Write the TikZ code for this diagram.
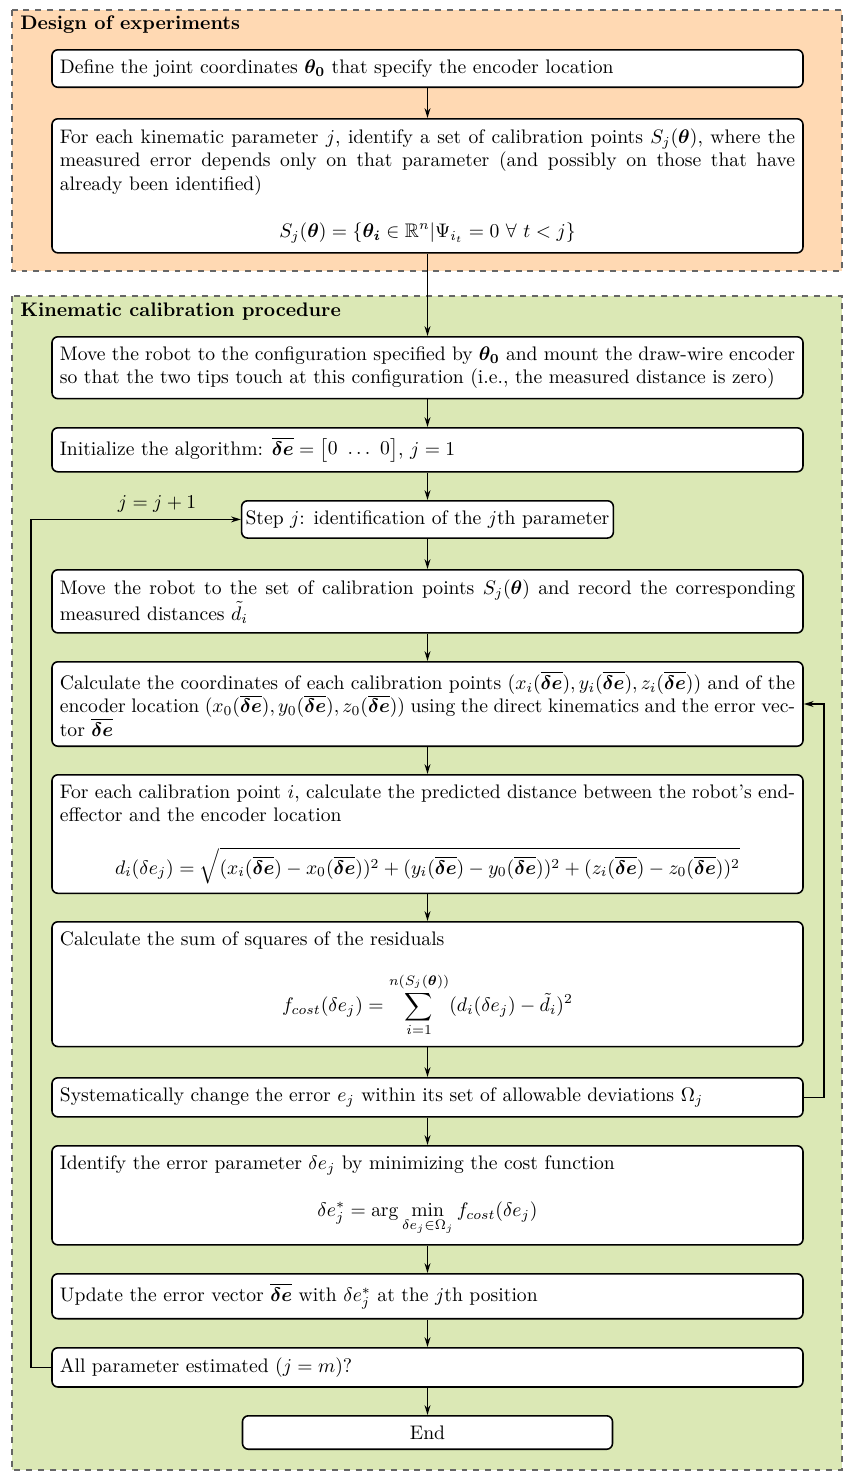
\documentclass[tikz,border=0pt]{standalone}
\usepackage{amsmath}
\usepackage{amssymb}
\usetikzlibrary{arrows.meta}
\definecolor{doeorange}{RGB}{255,217,179}
\definecolor{calgreen}{RGB}{219,232,181}
\newcommand{\errvec}{\overline{\boldsymbol{\delta e}}}
\newcommand{\boxeq}[2][12pt]{\par\vspace{#1}{\centering$\displaystyle #2$\par}}

\begin{document}
\begin{tikzpicture}[x=0.51pt, y=-0.51pt, font=\normalsize,
  box/.style={draw, rounded corners=3pt, line width=0.8pt, fill=white,
    inner ysep=5pt, anchor=north},
  block/.style={box, text width=375pt, inner xsep=4pt, align=justify},
  shortblock/.style={box, minimum width=188.7pt, inner xsep=2pt},
  region/.style={draw=black!60, dashed, line width=0.6pt},
  regtitle/.style={font=\bfseries, anchor=base west, inner sep=0pt},
  flow/.style={-{Stealth[length=5pt,width=3pt]}, line width=0.8pt}]
  % Frame
  \useasboundingbox (0,0) rectangle (843,1471);
  % Regions
  \draw[region, fill=doeorange] (12,10) rectangle (842,271);
  \draw[region, fill=calgreen] (12,296) rectangle (842,1470);
  \node[regtitle] (doe) at (20,29) {Design of experiments};
  \node[regtitle] (kcp) at (20,316) {Kinematic calibration procedure};
  % Design of experiments
  \node[block] (b1) at (427.5,49) {Define the joint coordinates $\boldsymbol{\theta_0}$ that specify the encoder location};
  \node[block] (b2) at (427.5,118) {For each kinematic parameter $j$, identify a set of calibration points $S_j(\boldsymbol{\theta})$, where the measured error depends only on that parameter (and possibly on those that have already been identified)
    \boxeq{S_j(\boldsymbol{\theta}) = \{\boldsymbol{\theta_i} \in \mathbb{R}^n | \Psi_{i_t} = 0 \ \forall \ t < j\}}};
  % Calibration procedure
  \node[block] (b3) at (427.5,336) {Move the robot to the configuration specified by $\boldsymbol{\theta_0}$ and mount the draw-wire encoder so that the two tips touch at this configuration (i.e., the measured distance is zero)};
  \node[block] (b4) at (427.5,427) {Initialize the algorithm: $\errvec = \begin{bmatrix}0 \ \dots \ 0\end{bmatrix}$, $j=1$};
  \node[shortblock] (b5) at (427.5,500) {Step $j$: identification of the $j$th parameter};
  \node[block] (b6) at (427.5,569) {Move the robot to the set of calibration points $S_j(\boldsymbol{\theta})$ and record the corresponding measured distances $\tilde{d}_i$};
  \node[block] (b7) at (427.5,661) {Calculate the coordinates of each calibration points $(x_i(\errvec), y_i(\errvec), z_i(\errvec))$ and of the encoder location $(x_0(\errvec), y_0(\errvec), z_0(\errvec))$ using the direct kinematics and the error vec-\linebreak tor $\errvec$};
  \node[block] (b8) at (427.5,774) {For each calibration point $i$, calculate the predicted distance between the robot's end-effector and the encoder location
    \boxeq{d_i(\delta e_j) = \sqrt{(x_i(\errvec) - x_0(\errvec))^2 + (y_i(\errvec) - y_0(\errvec))^2 + (z_i(\errvec) - z_0(\errvec))^2}}};
  \node[block] (b9) at (427.5,921) {Calculate the sum of squares of the residuals
    \boxeq[11pt]{f_{cost}(\delta e_j) = \sum_{i=1}^{n(S_j(\boldsymbol{\theta}))} (d_i(\delta e_j) - \tilde{d}_i)^2}};
  \node[block] (b10) at (427.5,1077) {Systematically change the error $e_j$ within its set of allowable deviations $\Omega_j$};
  \node[block] (b11) at (427.5,1145) {Identify the error parameter $\delta e_j$ by minimizing the cost function
    \boxeq[12pt]{\delta e_j^* = \arg \min_{\delta e_j \in \Omega_j} f_{cost}(\delta e_j)}};
  \node[block] (b12) at (427.5,1273) {Update the error vector $\errvec$ with $\delta e_j^*$ at the $j$th position};
  \node[block] (b13) at (427.5,1347) {All parameter estimated $(j = m)$?};
  \node[shortblock] (end) at (427.5,1415) {End};
  % Main flow
  \foreach \a/\b in {b1/b2, b2/b3, b3/b4, b4/b5, b5/b6, b6/b7, b7/b8, b8/b9,
                     b9/b10, b10/b11, b11/b12, b12/b13, b13/end}
    \draw[flow] (\a.south) -- (\b.north);
  % Loops
  \draw[flow] (b10.east) -- ++(20,0) |- (b7.east);
  \draw[flow] (b13.west) -- ++(-20,0) |- (b5.west) node[above, pos=0.8] (inc) {$j = j + 1$};
\end{tikzpicture}
\end{document}
